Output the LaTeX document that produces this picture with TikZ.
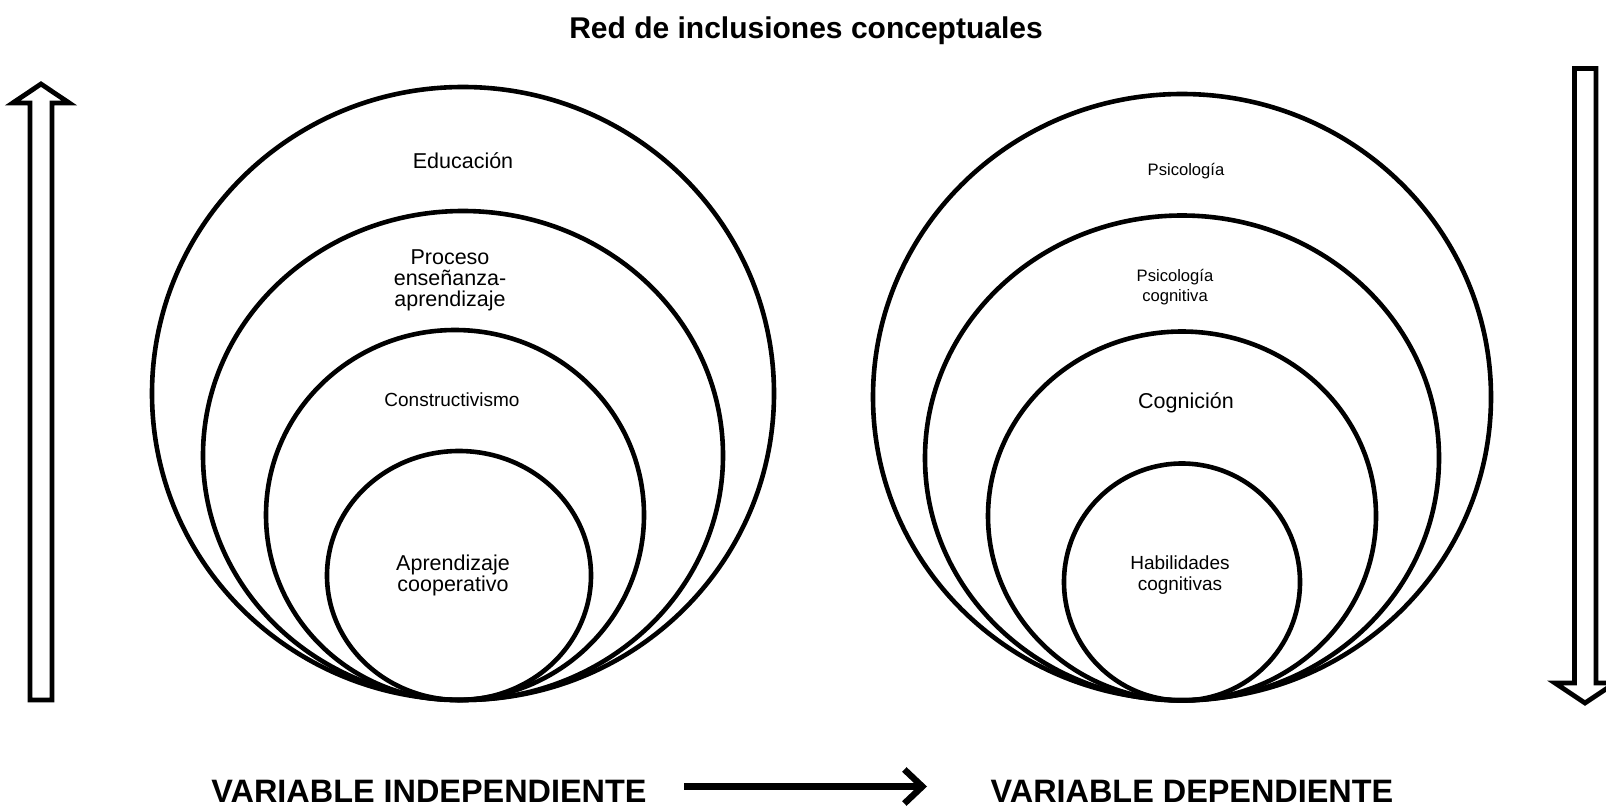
\documentclass[tikz,border=0pt]{standalone}
\usepackage{fontspec}
\setmainfont{Liberation Sans}
\usetikzlibrary{arrows.meta}
\begin{document}
\begin{tikzpicture}[x=0.5pt,y=-0.5pt,
  ring/.style={draw=black,line width=2.3pt},
  blockarrow/.style={draw=black,line width=2.4pt,line join=miter},
  lblA/.style={align=center,inner sep=0pt,font=\fontsize{10.75}{10.5}\selectfont},
  lblB/.style={align=center,inner sep=0pt,font=\fontsize{9.5}{10.5}\selectfont},
  lblC/.style={align=center,inner sep=0pt,font=\fontsize{8.3}{10}\selectfont},
  varlbl/.style={inner sep=0pt,font=\fontsize{16.2}{18}\selectfont\bfseries},
  titlelbl/.style={inner sep=0pt,font=\fontsize{15}{17}\selectfont\bfseries},
  bigarrow/.style={line width=3.4pt,-{Straight Barb[length=9pt,width=17pt,line width=3.2pt]}}]
\useasboundingbox (0,0) rectangle (1606,808);
\clip (0,0) rectangle (1606,808);

% title
\node[titlelbl] (title) at (806,31) {Red de inclusiones conceptuales};

% left group
\draw[ring] (463,393.5) ellipse [x radius=311, y radius=306.5];
\draw[ring] (463,455.5) ellipse [x radius=260, y radius=244.5];
\draw[ring] (455,515) ellipse [x radius=189, y radius=185];
\draw[ring] (459,575.5) ellipse [x radius=132, y radius=124.5];

\node[lblA] (edu) at (463,161) {Educación};
\node[lblA] (proc) at (450,280) {Proceso\\enseñanza-\\aprendizaje};
\node[lblB] (constr) at (452,400) {Constructivismo};
\node[lblA] (apr) at (453,575) {Aprendizaje\\cooperativo};

% right group
\draw[ring] (1182,397) ellipse [x radius=309, y radius=303];
\draw[ring] (1182,458) ellipse [x radius=257, y radius=242.5];
\draw[ring] (1182,516) ellipse [x radius=194, y radius=184.5];
\draw[ring] (1182,582) ellipse [x radius=118, y radius=118.5];

\node[lblC] (psi) at (1186,171) {Psicología};
\node[lblC] (psicog) at (1175,287) {Psicología\\cognitiva};
\node[lblA] (cogn) at (1186,403) {Cognición};
\node[lblB] (hab) at (1180,575) {Habilidades\\cognitivas};

% block arrows
\draw[blockarrow] (30,700) -- (30,103) -- (12.7,103) -- (41,84) -- (69.3,103) -- (52,103) -- (52,700) -- cycle;
\draw[blockarrow] (1574.5,68.5) -- (1574.5,683) -- (1555,683) -- (1585,703) -- (1615,683) -- (1596,683) -- (1596,68.5) -- cycle;

% bottom labels and arrow
\node[varlbl] (vi) at (429,791) {VARIABLE INDEPENDIENTE};
\node[varlbl] (vd) at (1192,791) {VARIABLE DEPENDIENTE};
\coordinate (a1) at (684,786.5);
\coordinate (a2) at (927,786.5);
\draw[bigarrow] (a1) -- (a2);
\end{tikzpicture}
\end{document}
